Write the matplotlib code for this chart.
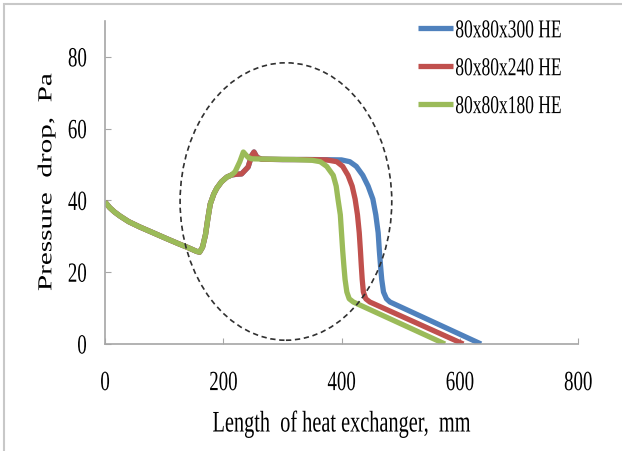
import matplotlib
matplotlib.use("Agg")
import matplotlib.pyplot as plt
from matplotlib.patches import Ellipse, Rectangle
from matplotlib.patheffects import AbstractPathEffect
from matplotlib.transforms import Affine2D

# Shared inlet section (identical for all three exchangers)
x_common = [0, 8, 16, 25, 40, 59, 80, 105, 125, 140, 155, 160, 165, 170, 174, 178, 184, 189, 197, 206, 214]
y_common = [39.6, 38.0, 36.8, 35.7, 34.1, 32.6, 31.1, 29.3, 27.9, 26.9, 25.8, 25.6, 27.0, 30.5, 35.0, 39.0, 41.8, 43.4, 45.2, 46.5, 47.1]

# 80x80x300 HE
x_300 = x_common + [222, 231, 242, 248, 252, 257, 265, 300, 350, 400, 414, 425, 436, 445, 453, 458, 462, 464, 466, 468, 471, 476, 482, 636]
y_300 = y_common + [47.3, 47.4, 49.3, 52.5, 53.5, 52.0, 51.5, 51.4, 51.4, 51.3, 50.8, 49.5, 47.0, 44.0, 40.4, 36.0, 31.0, 26.0, 21.8, 18.0, 14.5, 12.6, 11.7, 0.0]

# 80x80x240 HE
x_240 = x_common + [222, 231, 242, 248, 252, 257, 265, 300, 340, 375, 392, 402, 411, 418, 423, 427, 430, 432, 433.5, 435, 437, 441, 448, 606]
y_240 = y_common + [47.3, 47.4, 49.3, 52.5, 53.5, 52.0, 51.5, 51.4, 51.4, 51.3, 50.8, 49.5, 47.0, 44.0, 40.4, 36.0, 31.0, 26.0, 21.8, 18.0, 14.5, 12.6, 11.7, 0.0]

# 80x80x180 HE
x_180 = x_common + [220, 228, 234, 242, 248, 280, 320, 350, 364, 375, 386, 391, 394, 398, 400, 402, 404, 406, 409, 413, 420, 575]
y_180 = y_common + [48.0, 50.8, 53.5, 52.0, 51.6, 51.5, 51.4, 51.2, 50.8, 49.5, 47.0, 44.0, 40.4, 36.0, 31.0, 26.0, 21.8, 18.0, 14.5, 12.6, 11.7, 0.0]

labels = ["80x80x300 HE", "80x80x240 HE", "80x80x180 HE"]
colors = ["#4F81BD", "#C0504D", "#9BBB59"]

x_ticks = [0, 200, 400, 600, 800]
y_ticks = [0, 20, 40, 60, 80]


class Condense(AbstractPathEffect):
    """Draw text narrowed horizontally about its left, centre or right edge."""

    def __init__(self, sx=0.68, anchor="center"):
        super().__init__()
        self.sx = sx
        self.anchor = anchor

    def draw_path(self, renderer, gc, tpath, affine, rgbFace=None):
        ext = tpath.get_extents(affine)
        if self.anchor == "left":
            x0 = ext.x0
        elif self.anchor == "right":
            x0 = ext.x1
        else:
            x0 = 0.5 * (ext.x0 + ext.x1)
        squeeze = Affine2D().translate(-x0, 0).scale(self.sx, 1).translate(x0, 0)
        renderer.draw_path(gc, tpath, affine + squeeze, rgbFace)


SQ = 0.68
plt.rcParams["font.family"] = ["Liberation Serif", "DejaVu Serif"]

fig = plt.figure(figsize=(6.22, 4.52), dpi=100)
ax = fig.add_axes([0.1688, 0.2367, 0.9293 - 0.1688, 0.9513 - 0.2367])

for xs, ys, lab, col in zip([x_300, x_240, x_180], [y_300, y_240, y_180], labels, colors):
    ax.plot(xs, ys, color=col, lw=3.8, solid_joinstyle="round", solid_capstyle="butt", label=lab)

# Dashed ellipse highlighting the transition region
ax.add_patch(Ellipse((306, 39.7), 358, 77.3, fill=False, ls=(0, (3.2, 2.2)),
                     lw=1.2, ec="#303030", zorder=5))

ax.set_xlim(0, 800)
ax.set_ylim(0, 90)
ax.set_xticks(x_ticks)
ax.set_yticks(y_ticks)

for side in ["top", "right"]:
    ax.spines[side].set_visible(False)
for side in ["left", "bottom"]:
    ax.spines[side].set_color("#A6A6A6")
    ax.spines[side].set_linewidth(1.2)

ax.tick_params(axis="both", direction="in", length=4, color="#A6A6A6", labelsize=20)
ax.tick_params(axis="x", pad=19.5)
ax.tick_params(axis="y", pad=13)

for t in ax.get_xticklabels():
    t.set_path_effects([Condense(SQ, "center")])
for t in ax.get_yticklabels():
    t.set_path_effects([Condense(SQ, "right")])

xl = ax.set_xlabel("Length  of heat exchanger,  mm", fontsize=21.5)
yl = ax.set_ylabel("Pressure  drop,  Pa", fontsize=21)
xl.set_path_effects([Condense(SQ, "center")])
yl.set_path_effects([Condense(SQ, "center")])
ax.xaxis.set_label_coords(0.5, -0.206)
ax.yaxis.set_label_coords(-0.096, 0.5)

leg = ax.legend(loc="upper left", bbox_to_anchor=(0.672, 0.955), bbox_transform=fig.transFigure,
                frameon=False, fontsize=18.5, handlelength=1.36, handletextpad=0.08,
                labelspacing=0.58, borderpad=0, borderaxespad=0)
for t in leg.get_texts():
    t.set_path_effects([Condense(SQ, "left")])

# Light frame around the figure
fig.patches.append(Rectangle((4 / 622, -0.05), 1.1, 1 - 5 / 452 + 0.05, transform=fig.transFigure,
                             fill=False, ec="#C8C8C8", lw=1.5, figure=fig))

fig.savefig("out.png", dpi=100)
